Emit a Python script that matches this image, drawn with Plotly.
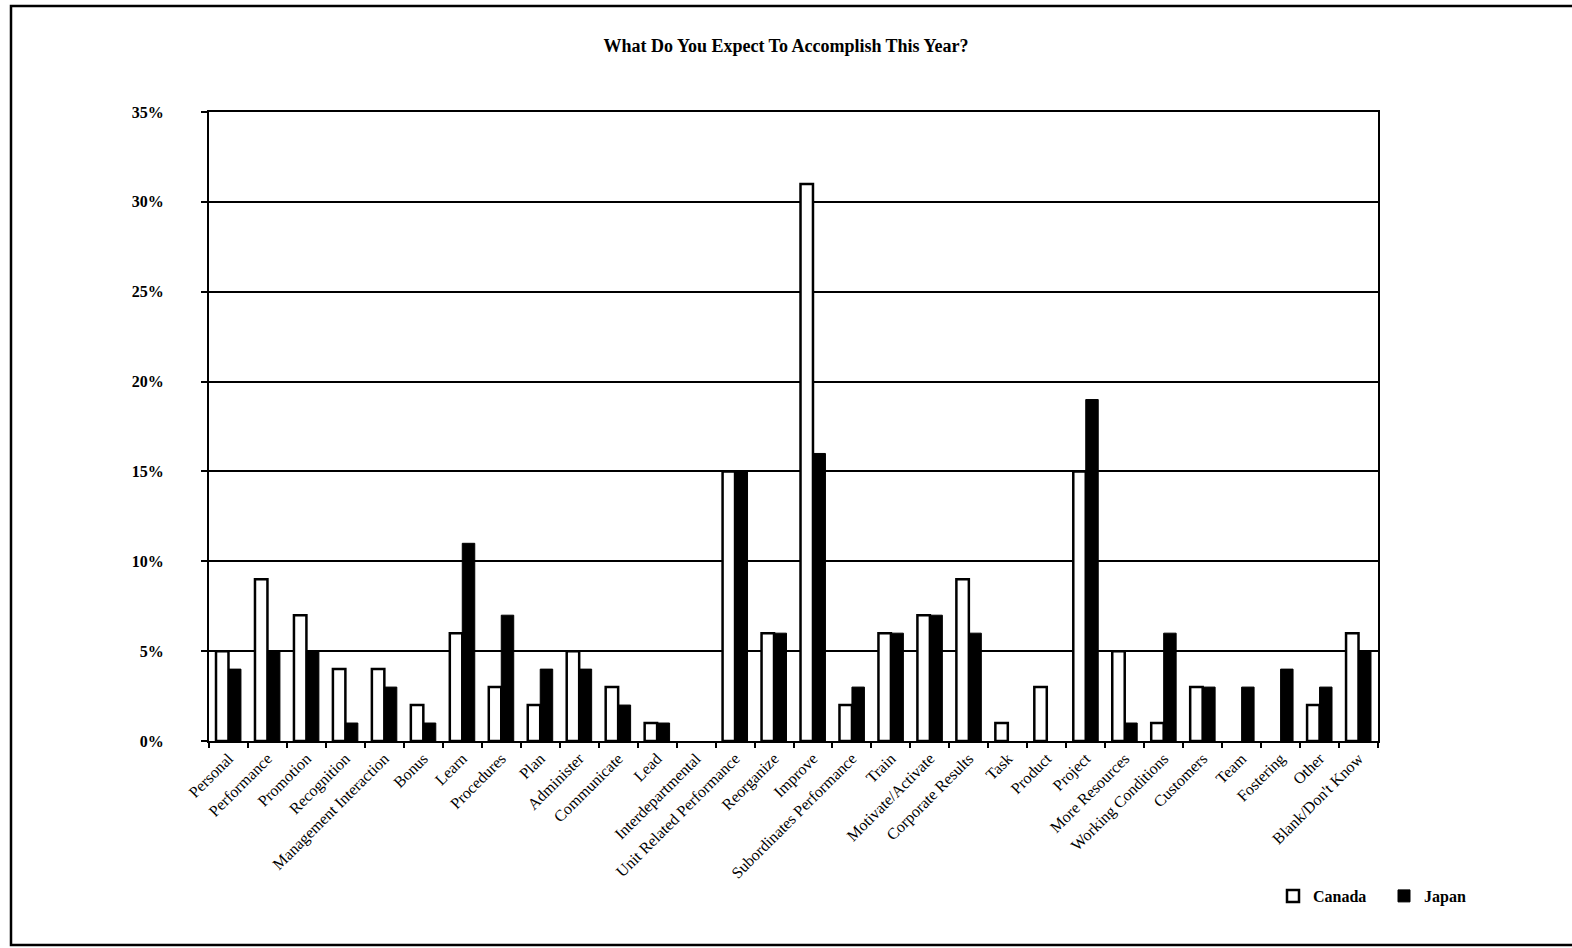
import plotly.graph_objects as go

categories = [
    "Personal", "Performance", "Promotion", "Recognition", "Management Interaction",
    "Bonus", "Learn", "Procedures", "Plan", "Administer", "Communicate", "Lead",
    "Interdepartmental", "Unit Related Performance", "Reorganize", "Improve",
    "Subordinates Performance", "Train", "Motivate/Activate", "Corporate Results",
    "Task", "Product", "Project", "More Resources", "Working Conditions",
    "Customers", "Team", "Fostering", "Other", "Blank/Don't Know",
]
canada = [5, 9, 7, 4, 4, 2, 6, 3, 2, 5, 3, 1, 0, 15, 6, 31, 2, 6, 7, 9,
          1, 3, 15, 5, 1, 3, 0, 0, 2, 6]
japan = [4, 5, 5, 1, 3, 1, 11, 7, 4, 4, 2, 1, 0, 15, 6, 16, 3, 6, 7, 6,
         0, 0, 19, 1, 6, 3, 3, 4, 3, 5]
y_ticks = [0, 5, 10, 15, 20, 25, 30, 35]

SERIF = "Liberation Serif, Times New Roman, serif"


def pct(values):
    # empty categories draw no bar at all (no outline on the baseline)
    return [v / 100 if v else None for v in values]


fig = go.Figure()
fig.add_trace(go.Bar(
    x=categories, y=pct(canada), name="<b>Canada</b>",
    marker=dict(color="white", line=dict(color="black", width=2.5)),
))
fig.add_trace(go.Bar(
    x=categories, y=pct(japan), name="<b>Japan</b>",
    marker=dict(color="black", line=dict(color="black", width=1)),
))

# plot area in pixels: left 209, right 1378, top 112, bottom 741
W, H = 1572, 948
L, R, T, B = 209, 1378, 112, 741
pw, ph = R - L, B - T

def px_x(x):
    return (x - L) / pw

def px_y(y):
    return (B - y) / ph

fig.update_layout(
    width=W, height=H,
    margin=dict(l=L, r=W - R, t=T, b=H - B, autoexpand=False),
    paper_bgcolor="white", plot_bgcolor="white",
    barmode="group", bargap=0.36, bargroupgap=0.0,
    font=dict(family=SERIF, color="black", size=13),
    title=dict(text="<b>What Do You Expect To Accomplish This Year?</b>",
               x=0.5, xanchor="center", y=1 - 46 / H, yanchor="middle",
               font=dict(family=SERIF, size=18, color="black")),
    legend=dict(orientation="h", x=px_x(1273), y=px_y(896), xanchor="left",
                yanchor="middle", font=dict(family=SERIF, size=16, color="black"),
                bgcolor="rgba(0,0,0,0)", itemwidth=30, traceorder="normal",
                entrywidth=66, entrywidthmode="pixels"),
    showlegend=True,
    shapes=[dict(type="rect", xref="paper", yref="paper",
                 x0=px_x(11), x1=px_x(1580), y0=px_y(945), y1=px_y(6),
                 line=dict(color="black", width=2.5), fillcolor="rgba(0,0,0,0)",
                 layer="below")],
)

fig.update_xaxes(
    type="category", tickangle=-45, tickson="boundaries",
    ticks="outside", ticklen=5, tickcolor="black", tickwidth=1.5,
    showline=True, linecolor="black", linewidth=2, mirror=True,
    showgrid=False, tickfont=dict(family=SERIF, size=16, color="black"),
)
fig.update_yaxes(
    range=[0, 0.35], tickvals=[v / 100 for v in y_ticks],
    ticktext=["<b>%d%%</b>" % v for v in y_ticks],
    ticks="outside", ticklen=6, tickcolor="black", tickwidth=1.5,
    ticklabelstandoff=34,
    showline=True, linecolor="black", linewidth=2, mirror=True,
    showgrid=True, gridcolor="black", gridwidth=1.5, zeroline=False,
    tickfont=dict(family=SERIF, size=16, color="black"),
)

fig.write_html("out.html", config={"displayModeBar": False},
               post_script="document.body.style.margin='0';")
